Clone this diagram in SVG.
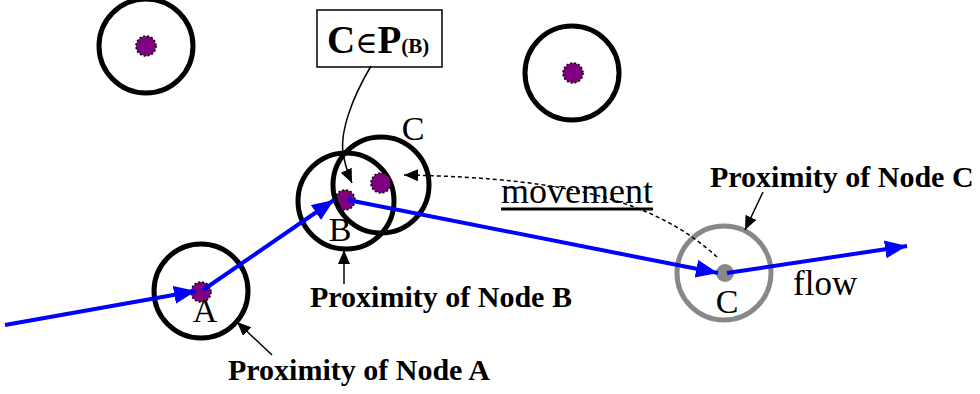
<svg xmlns="http://www.w3.org/2000/svg" width="980" height="394" viewBox="0 0 980 394">
<style>
.ring{fill:none;stroke:#000;stroke-width:5}
.gring{fill:none;stroke:#888;stroke-width:5}
.dot{fill:#800080;stroke:#000;stroke-width:1.6;stroke-dasharray:2,2}
.flow{fill:none;stroke:#0000ff;stroke-width:4;marker-end:url(#bh)}
.thin{fill:none;stroke:#000;stroke-width:1.5;marker-end:url(#kh)}
.lbl{font-family:"Liberation Serif","Times New Roman",serif;font-size:34px;fill:#000}
.prox{font-family:"Liberation Serif","Times New Roman",serif;font-size:30px;font-weight:bold;fill:#000}
</style>
<defs>
<marker id="bh" markerUnits="userSpaceOnUse" markerWidth="24" markerHeight="20" refX="22" refY="9" orient="auto"><path d="M0,0 L22,9 L0,18 z" fill="#0000ff"/></marker>
<marker id="kh" markerUnits="userSpaceOnUse" markerWidth="16" markerHeight="14" refX="14" refY="6" orient="auto"><path d="M0,0 L14,6 L0,12 z" fill="#000"/></marker>
</defs>
<rect width="980" height="394" fill="#fff"/>

<g id="nodeTL"><circle class="ring" cx="146" cy="46" r="47"/><circle class="dot" cx="146" cy="46" r="10"/></g>
<g id="nodeTR"><circle class="ring" cx="572" cy="73" r="47"/><circle class="dot" cx="573" cy="73" r="10"/></g>
<g id="nodeA"><circle class="ring" cx="201" cy="291" r="47"/><circle class="dot" cx="201" cy="292" r="10"/><text class="lbl" x="205" y="322" text-anchor="middle">A</text></g>
<g id="nodeB"><circle class="ring" cx="346" cy="201" r="48"/><circle class="dot" cx="345" cy="200" r="10"/><text class="lbl" x="340" y="241" text-anchor="middle">B</text></g>
<g id="nodeCold"><circle class="ring" cx="381" cy="185" r="48"/><circle class="dot" cx="381" cy="183" r="10"/><text class="lbl" x="413" y="140" text-anchor="middle">C</text></g>
<g id="nodeC"><circle class="gring" cx="724" cy="273" r="47"/><circle cx="725" cy="273" r="9" fill="#888"/><text class="lbl" x="727" y="313" text-anchor="middle">C</text></g>

<g id="box"><rect x="317" y="10" width="125" height="57" fill="#fff" stroke="#000" stroke-width="1.5"/>
<text x="327" y="53" font-family="'Liberation Serif','Times New Roman',serif" font-size="39" font-weight="bold">C<tspan font-weight="normal" font-size="30" font-family="'DejaVu Serif','Liberation Serif',serif">∈</tspan>P<tspan font-size="21">(B)</tspan></text></g>

<g id="connectors">
<path class="flow" d="M5,325 L196,291"/>
<path class="flow" d="M203,290 L334,200"/>
<path class="flow" d="M348,200 L718,273"/>
<path class="flow" d="M727,273 L907,246"/>
<path class="thin" d="M371,66 C352,98 338,135 344,158 Q347,172 352,183"/>
<path d="M717,257 C660,205 580,178 404,175" fill="none" stroke="#000" stroke-width="1.5" stroke-dasharray="4,3" marker-end="url(#kh)"/>
<path class="thin" d="M344,284 L344,250"/>
<path class="thin" d="M272,355 L237,322"/>
<path class="thin" d="M763,192 L745,230"/>
</g>

<g id="labels">
<text class="prox" x="228" y="380">Proximity of Node A</text>
<text class="prox" x="310" y="307">Proximity of Node B</text>
<text class="prox" x="710" y="187">Proximity of Node C</text>
<text class="lbl" x="501" y="203" style="font-size:36px">movement</text>
<line x1="501" y1="209" x2="653" y2="209" stroke="#000" stroke-width="3"/>
<text class="lbl" x="793" y="295" style="font-size:35px">flow</text>
</g>
</svg>
